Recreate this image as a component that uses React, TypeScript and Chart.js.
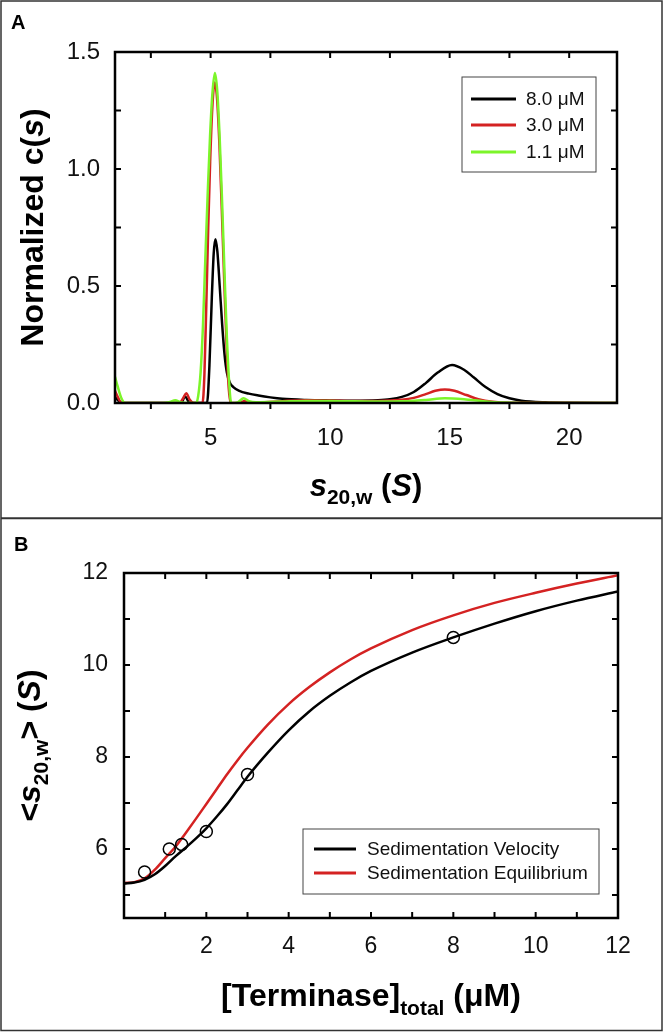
import React, { useEffect, useRef } from 'react';
import { Chart, registerables } from 'chart.js';

Chart.register(...registerables);

const FONT = '"Liberation Sans", Arial, Helvetica, sans-serif';

// ---------- Panel A: normalized c(s) distributions ----------
const A_8_X = [1.0, 1.15, 1.3, 2.0, 3.0, 3.75, 3.94, 4.12, 4.3, 4.85, 4.95, 5.05, 5.13, 5.2, 5.28, 5.38, 5.48, 5.58, 5.68, 5.8, 5.95, 6.2, 6.6, 7.0, 7.5, 8.0, 9.0, 10.0, 11.0, 12.0, 12.5, 13.0, 13.5, 14.0, 14.5, 15.1, 15.6, 16.0, 16.5, 17.0, 17.5, 18.0, 19.0, 20.0, 22.0];
const A_8_Y = [0.025, 0.01, 0.0, 0.0, 0.0, 0.0, 0.027, 0.0, 0.0, 0.0, 0.16, 0.45, 0.64, 0.70, 0.65, 0.50, 0.34, 0.21, 0.13, 0.088, 0.068, 0.052, 0.04, 0.032, 0.024, 0.018, 0.013, 0.011, 0.01, 0.012, 0.016, 0.026, 0.047, 0.085, 0.13, 0.162, 0.142, 0.11, 0.068, 0.038, 0.02, 0.01, 0.003, 0.001, 0.0];

const A_3_X = [1.0, 1.12, 1.28, 2.0, 3.0, 3.7, 3.85, 3.98, 4.12, 4.3, 4.66, 4.74, 4.82, 4.9, 4.98, 5.07, 5.17, 5.27, 5.37, 5.47, 5.57, 5.67, 5.76, 5.84, 6.2, 6.45, 6.7, 7.0, 8.0, 9.0, 10.0, 11.0, 12.0, 13.0, 13.5, 14.0, 14.4, 14.8, 15.2, 15.7, 16.2, 16.8, 17.5, 22.0];
const A_3_Y = [0.052, 0.025, 0.0, 0.0, 0.0, 0.0, 0.02, 0.042, 0.015, 0.0, 0.0, 0.12, 0.42, 0.75, 1.03, 1.26, 1.37, 1.30, 1.10, 0.82, 0.52, 0.24, 0.06, 0.0, 0.0, 0.01, 0.002, 0.002, 0.008, 0.012, 0.011, 0.009, 0.009, 0.014, 0.022, 0.038, 0.052, 0.058, 0.052, 0.034, 0.016, 0.005, 0.001, 0.0];

const A_1_X = [1.0, 1.1, 1.25, 1.42, 3.0, 3.3, 3.52, 3.75, 4.0, 4.4, 4.48, 4.58, 4.68, 4.78, 4.88, 4.98, 5.08, 5.18, 5.28, 5.38, 5.48, 5.58, 5.68, 5.78, 5.86, 6.15, 6.38, 6.6, 6.9, 8.0, 9.0, 10.0, 11.0, 12.0, 13.0, 14.0, 14.8, 15.6, 16.4, 17.2, 18.0, 22.0];
const A_1_Y = [0.112, 0.075, 0.025, 0.0, 0.0, 0.004, 0.012, 0.003, 0.0, 0.0, 0.03, 0.13, 0.33, 0.62, 0.9, 1.15, 1.33, 1.41, 1.33, 1.13, 0.86, 0.56, 0.28, 0.08, 0.0, 0.004, 0.02, 0.008, 0.003, 0.006, 0.009, 0.009, 0.007, 0.006, 0.007, 0.013, 0.02, 0.016, 0.008, 0.002, 0.0, 0.0];

const A_LABELS = ['8.0 \u03bcM', '3.0 \u03bcM', '1.1 \u03bcM'];
const A_X_TICKS = [2.5, 5, 7.5, 10, 12.5, 15, 17.5, 20];
const A_X_TICK_LABELS = [5, 10, 15, 20];
const A_Y_TICKS = [0, 0.25, 0.5, 0.75, 1.0, 1.25, 1.5];
const A_Y_TICK_LABELS = [0, 0.5, 1.0, 1.5];

// ---------- Panel B: weight-average s vs concentration ----------
const B_X = [0, 0.25, 0.5, 0.75, 1.0, 1.25, 1.5, 1.75, 2.0, 2.25, 2.5, 2.75, 3.0, 3.5, 4.0, 4.5, 5.0, 5.5, 6.0, 7.0, 8.0, 9.0, 10.0, 11.0, 12.0];
const B_SV = [5.25, 5.27, 5.33, 5.45, 5.63, 5.84, 6.03, 6.23, 6.45, 6.7, 6.97, 7.27, 7.57, 8.1, 8.58, 8.99, 9.33, 9.62, 9.87, 10.27, 10.6, 10.9, 11.17, 11.4, 11.6];
const B_SE = [5.26, 5.28, 5.36, 5.55, 5.8, 6.05, 6.35, 6.66, 6.98, 7.3, 7.62, 7.92, 8.2, 8.71, 9.15, 9.52, 9.84, 10.12, 10.36, 10.76, 11.08, 11.35, 11.57, 11.77, 11.95];
const B_PTS_X = [0.5, 1.1, 1.4, 2.0, 3.0, 8.0];
const B_PTS_Y = [5.5, 6.0, 6.1, 6.38, 7.62, 10.6];
const B_LABELS = ['Sedimentation Velocity', 'Sedimentation Equilibrium'];
const B_X_TICKS = [1, 2, 3, 4, 5, 6, 7, 8, 9, 10, 11, 12];
const B_X_TICK_LABELS = [2, 4, 6, 8, 10, 12];
const B_Y_TICKS = [5, 6, 7, 8, 9, 10, 11, 12];
const B_Y_TICK_LABELS = [6, 8, 10, 12];

const BLACK = '#000000';
const RED = '#d42222';
const GREEN = '#7cf52a';

type Seg = { t: string; i?: boolean; sub?: boolean };

function drawSegs(ctx: CanvasRenderingContext2D, segs: Seg[], size: number, subSize: number, subDrop: number, x: number, y: number) {
  const fontOf = (s: Seg) => `${s.i ? 'italic ' : ''}bold ${s.sub ? subSize : size}px ${FONT}`;
  let total = 0;
  const widths = segs.map((s) => {
    ctx.font = fontOf(s);
    const w = ctx.measureText(s.t).width;
    total += w;
    return w;
  });
  let cx = x - total / 2;
  ctx.textAlign = 'left';
  ctx.textBaseline = 'alphabetic';
  segs.forEach((s, k) => {
    ctx.font = fontOf(s);
    ctx.fillText(s.t, cx, y + (s.sub ? subDrop : 0));
    cx += widths[k];
  });
}

type PanelCfg = {
  border: [number, number, number, number];
  letter: string;
  letterPos: [number, number];
  bottomOut: boolean;
  legend: { box: [number, number, number, number]; x0: number; x1: number; tx: number; rows: number[]; size: number };
  xTitle: { segs: Seg[]; size: number; sub: number; drop: number; y: number };
  yTitle: { segs: Seg[]; size: number; sub: number; drop: number; x: number };
};

function panelPlugin(cfg: PanelCfg) {
  return {
    id: 'panelDecor',
    afterDraw(chart: any) {
      const { ctx, chartArea: a, scales } = chart;
      ctx.save();
      // outer panel border
      ctx.strokeStyle = '#333';
      ctx.lineWidth = 1.5;
      ctx.strokeRect(...cfg.border);
      // plot frame
      ctx.strokeStyle = '#000';
      ctx.lineWidth = 2.5;
      ctx.strokeRect(a.left, a.top, a.right - a.left, a.bottom - a.top);
      // ticks
      const L = 6;
      ctx.lineWidth = 2;
      ctx.beginPath();
      scales.x.ticks.forEach((t: any) => {
        const p = scales.x.getPixelForValue(t.value);
        ctx.moveTo(p, a.top);
        ctx.lineTo(p, a.top + L);
        ctx.moveTo(p, a.bottom);
        ctx.lineTo(p, cfg.bottomOut ? a.bottom + L : a.bottom - L);
      });
      scales.y.ticks.forEach((t: any) => {
        const p = scales.y.getPixelForValue(t.value);
        ctx.moveTo(a.left, p);
        ctx.lineTo(a.left + L, p);
        ctx.moveTo(a.right, p);
        ctx.lineTo(a.right - L, p);
      });
      ctx.stroke();
      // panel letter
      ctx.fillStyle = '#000';
      ctx.font = `bold 20px ${FONT}`;
      ctx.textAlign = 'left';
      ctx.textBaseline = 'alphabetic';
      ctx.fillText(cfg.letter, cfg.letterPos[0], cfg.letterPos[1]);
      // legend
      const lg = cfg.legend;
      ctx.strokeStyle = '#444';
      ctx.lineWidth = 1;
      ctx.strokeRect(...lg.box);
      const items = chart.data.datasets.filter((d: any) => d.label);
      items.forEach((d: any, k: number) => {
        const y = lg.rows[k];
        ctx.strokeStyle = d.borderColor;
        ctx.lineWidth = 3;
        ctx.beginPath();
        ctx.moveTo(lg.x0, y);
        ctx.lineTo(lg.x1, y);
        ctx.stroke();
        ctx.fillStyle = '#111';
        ctx.font = `${lg.size}px ${FONT}`;
        ctx.textBaseline = 'middle';
        ctx.fillText(d.label, lg.tx, y + 1);
      });
      // axis titles
      ctx.fillStyle = '#000';
      const xt = cfg.xTitle;
      drawSegs(ctx, xt.segs, xt.size, xt.sub, xt.drop, (a.left + a.right) / 2, xt.y);
      const yt = cfg.yTitle;
      ctx.translate(yt.x, (a.top + a.bottom) / 2);
      ctx.rotate(-Math.PI / 2);
      drawSegs(ctx, yt.segs, yt.size, yt.sub, yt.drop, 0, 0);
      ctx.restore();
    },
  };
}

function makeScale(min: number, max: number, ticks: number[], labels: number[], fmt: (v: number) => string, size: number, padding: number, fit: (s: any) => void) {
  return {
    type: 'linear' as const,
    min,
    max,
    afterBuildTicks: (scale: any) => {
      scale.ticks = ticks.map((v) => ({ value: v }));
    },
    afterFit: fit,
    grid: { display: false, drawTicks: false },
    border: { display: false },
    ticks: {
      autoSkip: false,
      maxRotation: 0,
      padding,
      color: '#111',
      font: { family: FONT, size },
      callback: (v: any) => (labels.some((l) => Math.abs(l - v) < 1e-9) ? fmt(Number(v)) : ''),
    },
  };
}

const zip = (xs: number[], ys: number[]) => xs.map((x, i) => ({ x, y: ys[i] }));

export default function App() {
  const refA = useRef<HTMLCanvasElement>(null);
  const refB = useRef<HTMLCanvasElement>(null);

  useEffect(() => {
    document.body.style.margin = '0';
    const lineDs = (label: string, data: any[], color: string, order: number, width = 2.5) => ({
      label,
      data,
      showLine: true,
      borderColor: color,
      backgroundColor: color,
      borderWidth: width,
      pointRadius: 0,
      cubicInterpolationMode: 'monotone' as const,
      order,
    });

    const chartA = new Chart(refA.current!, {
      type: 'scatter',
      data: {
        datasets: [
          lineDs(A_LABELS[0], zip(A_8_X, A_8_Y), BLACK, 3),
          lineDs(A_LABELS[1], zip(A_3_X, A_3_Y), RED, 2),
          lineDs(A_LABELS[2], zip(A_1_X, A_1_Y), GREEN, 1),
        ],
      },
      options: {
        responsive: false,
        animation: false,
        devicePixelRatio: 1,
        layout: { padding: { left: 0, top: 52, right: 47, bottom: 0 } },
        plugins: { legend: { display: false }, tooltip: { enabled: false } },
        scales: {
          x: makeScale(1, 22, A_X_TICKS, A_X_TICK_LABELS, (v) => String(v), 24, 21, (s: any) => { s.height = 115; }),
          y: makeScale(0, 1.5, A_Y_TICKS, A_Y_TICK_LABELS, (v) => v.toFixed(1), 24, 15, (s: any) => { s.width = 115; }),
        },
      } as any,
      plugins: [
        panelPlugin({
          border: [1, 1, 661, 517],
          letter: 'A',
          letterPos: [11, 29],
          bottomOut: true,
          legend: { box: [462, 77, 134, 95], x0: 471, x1: 516, tx: 526, rows: [99, 125, 152], size: 19 },
          xTitle: { segs: [{ t: 's', i: true }, { t: '20,w', sub: true }, { t: ' (' }, { t: 'S', i: true }, { t: ')' }], size: 31, sub: 21, drop: 8, y: 496 },
          yTitle: { segs: [{ t: 'Normalized c(' }, { t: 's', i: true }, { t: ')' }], size: 32, sub: 21, drop: 8, x: 43 },
        }),
      ],
    });

    const chartB = new Chart(refB.current!, {
      type: 'scatter',
      data: {
        datasets: [
          lineDs(B_LABELS[0], zip(B_X, B_SV), BLACK, 2),
          lineDs(B_LABELS[1], zip(B_X, B_SE), RED, 3),
          {
            label: '',
            data: zip(B_PTS_X, B_PTS_Y),
            showLine: false,
            pointRadius: 6,
            pointBorderWidth: 1.5,
            pointBorderColor: '#000',
            pointBackgroundColor: 'rgba(0,0,0,0)',
            order: 0,
          } as any,
        ],
      },
      options: {
        responsive: false,
        animation: false,
        devicePixelRatio: 1,
        layout: { padding: { left: 0, top: 55, right: 46, bottom: 0 } },
        plugins: { legend: { display: false }, tooltip: { enabled: false } },
        scales: {
          x: makeScale(0, 12, B_X_TICKS, B_X_TICK_LABELS, (v) => String(v), 23, 15, (s: any) => { s.height = 115; }),
          y: makeScale(4.5, 12, B_Y_TICKS, B_Y_TICK_LABELS, (v) => String(v), 23, 16, (s: any) => { s.width = 124; }),
        },
      } as any,
      plugins: [
        panelPlugin({
          border: [1, 0.5, 661, 512],
          letter: 'B',
          letterPos: [14, 33],
          bottomOut: false,
          legend: { box: [303, 311, 296, 65], x0: 314, x1: 356, tx: 367, rows: [331, 355], size: 19 },
          xTitle: { segs: [{ t: '[Terminase]' }, { t: 'total', sub: true }, { t: ' (\u03bcM)' }], size: 32, sub: 21, drop: 9, y: 488 },
          yTitle: { segs: [{ t: '<' }, { t: 's', i: true }, { t: '20,w', sub: true }, { t: '> (' }, { t: 'S', i: true }, { t: ')' }], size: 32, sub: 21, drop: 8, x: 40 },
        }),
      ],
    });

    return () => {
      chartA.destroy();
      chartB.destroy();
    };
  }, []);

  return (
    <div style={{ width: 664, height: 1033, background: '#fff' }}>
      <canvas ref={refA} width={664} height={518} style={{ display: 'block' }} />
      <canvas ref={refB} width={664} height={515} style={{ display: 'block' }} />
    </div>
  );
}
